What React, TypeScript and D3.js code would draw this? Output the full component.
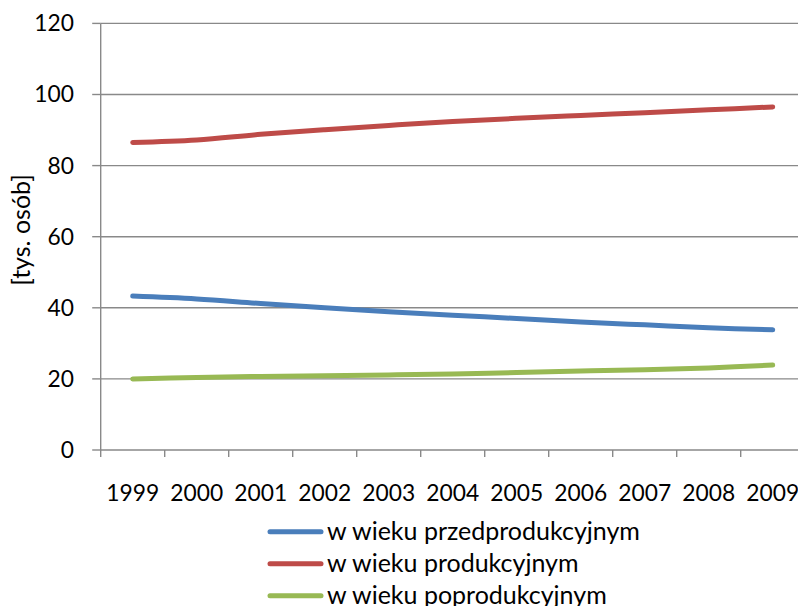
import React from "react";
import * as d3 from "d3";

const years = ["1999","2000","2001","2002","2003","2004","2005","2006","2007","2008","2009"];
const przed = [43.3, 42.5, 41.2, 40.0, 38.9, 37.9, 37.0, 36.0, 35.2, 34.4, 33.8];
const prod = [86.5, 87.2, 88.8, 90.1, 91.3, 92.4, 93.3, 94.1, 94.9, 95.7, 96.5];
const poprod = [20.0, 20.4, 20.7, 20.9, 21.1, 21.4, 21.8, 22.2, 22.6, 23.1, 23.9];
const yTicks = [0, 20, 40, 60, 80, 100, 120];
const seriesNames = ["w wieku przedprodukcyjnym", "w wieku produkcyjnym", "w wieku poprodukcyjnym"];
const seriesColors = ["#4A7EBB", "#BE4B48", "#98B954"];

const W = 798, H = 606;
const FONT = "Lato, 'Open Sans', sans-serif";
const FS_TICK = 22.8;
const FS_TEXT = 25;

export default function App() {
  const x = d3.scaleBand<string>().domain(years).range([100.7, 100.7 + 64 * 11]);
  const y = d3.scaleLinear().domain([0, 120]).range([450, 23.4]);
  const line = d3
    .line<number>()
    .x((_, i) => (x(years[i]) as number) + x.bandwidth() / 2)
    .y((d) => y(d))
    .curve(d3.curveCatmullRom.alpha(0.5));
  const series = [przed, prod, poprod];
  const grid = "#898989";
  const x0 = x.range()[0];
  const x1 = x.range()[1];
  return (
    <svg width={W} height={H} style={{ position: "absolute", left: 0, top: 0, background: "#fff" }} fontFamily={FONT}>
      {yTicks.filter((t) => t > 0).map((t) => (
        <line key={"g" + t} x1={x0} x2={x1} y1={y(t)} y2={y(t)} stroke={grid} strokeWidth={1.4} />
      ))}
      <line x1={x0} x2={x0} y1={y(120)} y2={y(0)} stroke={grid} strokeWidth={1.4} />
      <line x1={x0} x2={x1} y1={y(0)} y2={y(0)} stroke={grid} strokeWidth={1.4} />
      {yTicks.map((t) => (
        <g key={"yt" + t}>
          <line x1={x0 - 8.5} x2={x0} y1={y(t)} y2={y(t)} stroke={grid} strokeWidth={1.4} />
          <text x={74} y={y(t)} dy="0.35em" textAnchor="end" fontSize={FS_TICK} fill="#000">{t}</text>
        </g>
      ))}
      {years.map((yr, i) => (
        <g key={"xt" + yr}>
          <line x1={x0 + i * x.bandwidth()} x2={x0 + i * x.bandwidth()} y1={y(0)} y2={y(0) + 7} stroke={grid} strokeWidth={1.4} />
          <text x={(x(yr) as number) + x.bandwidth() / 2} y={500.5} textAnchor="middle" fontSize={FS_TICK} fill="#000">{yr}</text>
        </g>
      ))}
      <text transform={`translate(30,230) rotate(-90)`} textAnchor="middle" fontSize={FS_TEXT} fill="#000">[tys. osób]</text>
      {series.map((s, k) => (
        <path key={"s" + k} d={line(s) || ""} fill="none" stroke={seriesColors[k]} strokeWidth={5} strokeLinecap="round" strokeLinejoin="round" />
      ))}
      {seriesNames.map((n, k) => {
        const cy = 531.7 + k * 32;
        return (
          <g key={"l" + k}>
            <line x1={270} x2={321} y1={cy} y2={cy} stroke={seriesColors[k]} strokeWidth={5} strokeLinecap="round" />
            <text x={327} y={cy} dy="0.35em" fontSize={FS_TEXT} fill="#000">{n}</text>
          </g>
        );
      })}
    </svg>
  );
}
